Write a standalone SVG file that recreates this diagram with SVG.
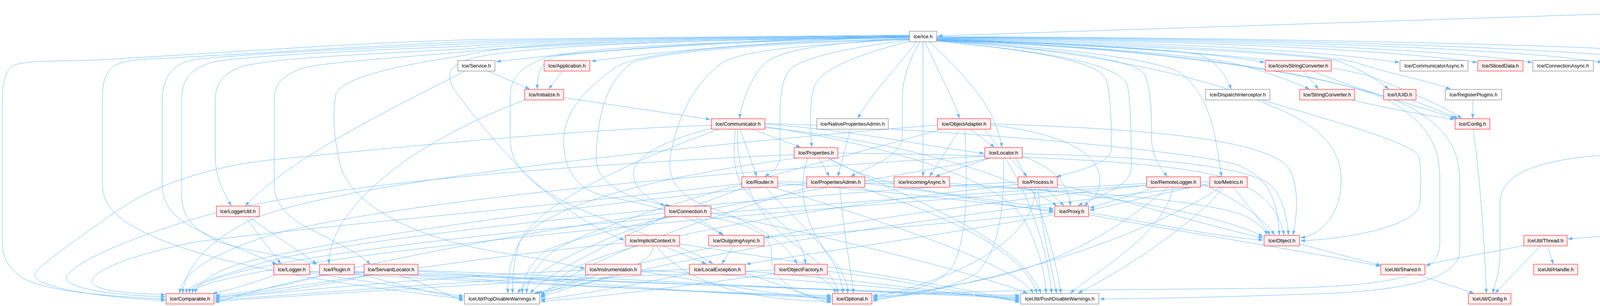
<svg xmlns="http://www.w3.org/2000/svg" width="4797" height="784" viewBox="0 0 4797 784">
<style>
.e path{fill:none;stroke:#63B8FF;stroke-width:1;marker-end:url(#a)}
.n rect{fill:#FFFFFF;stroke:#666666;stroke-width:1}
.r rect{fill:#FFF0F0;stroke:#FF0000;stroke-width:1}
.g rect{fill:#E0E0E0;stroke:#999999;stroke-width:1}
.m rect{fill:#999999;stroke:#666666;stroke-width:1}
text{font-family:"Liberation Sans",Arial,Helvetica,sans-serif;font-size:13px;text-anchor:middle;fill:#000000}
</style>
<defs>
<marker id="a" viewBox="0 0 10 7" refX="10" refY="3.5" markerWidth="11" markerHeight="8" markerUnits="userSpaceOnUse" orient="auto"><path d="M0,0L10,3.5L0,7z" fill="#63B8FF" stroke="#63B8FF" stroke-width="0.5"/></marker>
</defs>
<rect width="4797" height="784" fill="#FFFFFF"/>
<g id="edges" class="e">
<path d="M4501,23 L2401,92"/>
<path d="M4586,32 L4619,79"/>
<path d="M4606,32 L4729,80"/>
<path d="M4566,32 C4540,100 4518,160 4518,240 L4518,420 C4518,560 4250,595 4014,612"/>
<path d="M2398,100 C2800,112 3100,135 3237,160"/>
<path d="M2398,99 C2900,106 3350,125 3582,160"/>
<path d="M2398,98 C3000,103 3550,125 3781,160"/>
<path d="M2398,97 C3100,101 3700,125 3922,160"/>
<path d="M2398,96 C3200,99 3900,125 4101,160"/>
<path d="M2398,95 C3300,97 4100,125 4277,160"/>
<path d="M2398,94 C3300,96 4300,120 4430,147 C4470,160 4476,200 4463,225 C4430,290 4320,340 4207,377"/>
<path d="M2398,101 C2700,110 3000,125 3070,140 C3110,155 3135,185 3152,228"/>
<path d="M2398,102 C2700,112 3050,140 3150,160 C3230,180 3300,205 3352,228"/>
<path d="M2398,101 C2900,115 3350,140 3420,155 C3480,175 3520,200 3555,228"/>
<path d="M2398,100 C2950,110 3400,140 3470,160 C3560,190 3650,205 3713,228"/>
<path d="M2398,102 C2950,118 3420,160 3520,200 C3620,240 3690,270 3742,303"/>
<path d="M2398,103 C2700,120 2950,150 3020,185 C3080,230 3100,300 3110,350 C3120,400 3122,420 3127,452"/>
<path d="M2398,104 C2700,125 2900,150 2930,190 C2948,230 2948,300 2948,350 C2948,400 2970,430 2988,452"/>
<path d="M2398,105 C2650,130 2800,155 2830,200 C2845,240 2845,330 2845,380 C2845,420 2750,440 2705,453"/>
<path d="M2398,104 C2700,135 2860,165 2885,215 C2896,250 2896,380 2896,430 C2896,480 2800,505 2760,527"/>
<path d="M2379,107 C2450,170 2530,260 2548,320 C2560,350 2563,365 2565,377"/>
<path d="M2368,107 C2400,180 2440,250 2456,303"/>
<path d="M2363,107 L2363,452"/>
<path d="M2355,107 C2330,150 2310,200 2310,250 L2310,350 C2310,400 2220,430 2178,452"/>
<path d="M2346,107 C2300,170 2230,240 2196,303"/>
<path d="M2398,103 C2800,130 3100,200 3250,270 C3380,320 3432,380 3433,460 C3435,540 3390,600 3330,609"/>
<path d="M2398,103 C3000,120 3450,200 3560,260 C3660,320 3686,380 3686,460 L3686,620 C3686,700 3600,730 3300,738 L2900,742 C2600,745 2300,745 2235,772"/>
<path d="M2398,104 C3050,125 3500,210 3620,280 C3720,340 3737,400 3737,470 L3737,640 C3737,700 3650,740 3400,752 C3100,762 2950,765 2816,766"/>
<path d="M2328,92 C1900,100 1500,130 1271,158"/>
<path d="M2328,93 C2000,105 1700,130 1514,157"/>
<path d="M2328,94 C1900,105 1500,130 1420,145 C1385,160 1373,190 1376,228"/>
<path d="M2328,99 C2100,110 2000,130 1960,160 C1920,200 1900,260 1893,303"/>
<path d="M2330,105 C2200,140 2110,170 2085,220 C2070,270 2075,330 2078,377"/>
<path d="M2329,102 C2150,125 2050,150 2020,180 C1998,210 1997,260 1997,300 L1997,400 C1997,430 1970,445 1958,452"/>
<path d="M2328,100 C2000,110 1700,130 1620,160 C1560,200 1530,280 1526,400 C1524,470 1600,510 1715,527"/>
<path d="M2328,99 C1950,108 1650,130 1580,170 C1480,240 1443,300 1443,360 C1443,440 1480,490 1560,505 C1700,530 1800,570 1850,602"/>
<path d="M2328,97 C1800,105 1450,125 1390,150 C1330,175 1306,200 1306,250 L1306,350 C1306,420 1340,460 1450,520 C1600,590 1760,630 1825,676"/>
<path d="M2328,101 C2050,115 1900,130 1850,160 C1780,210 1740,290 1720,380 C1700,460 1740,500 1800,525 C1900,560 2010,610 2040,676"/>
<path d="M2328,96 C1700,102 1250,120 1180,160 C1140,180 1150,200 1160,225 C1300,420 1450,560 1598,615"/>
<path d="M2328,96 C1700,100 1300,110 1200,140 C1000,170 880,200 860,240 C850,300 855,350 870,420 C900,540 1100,620 1300,650 C1400,665 1460,680 1497,688"/>
<path d="M2328,90 C1800,95 1300,100 1200,102 C900,110 500,140 306,150 C200,160 60,150 30,170 C10,190 6,220 6,260 L6,620 C6,670 30,690 54,710 C120,750 300,760 423,766"/>
<path d="M2328,91 C1800,96 1300,102 1200,107 C900,120 600,140 459,147 C380,152 300,150 280,180 C265,200 262,220 262,260 L262,470 C262,520 290,550 340,580 C500,670 800,720 1186,766"/>
<path d="M2328,92 C1800,97 1300,105 1200,112 C900,125 600,140 505,152 C440,160 415,200 415,260 L415,470 C415,520 440,550 480,575 C560,620 650,650 708,677"/>
<path d="M2328,93 C1800,98 1300,108 1200,118 C900,130 600,145 540,160 C480,180 465,210 465,260 L465,500 C465,560 500,590 560,620 C660,650 760,660 812,677"/>
<path d="M2328,94 C1800,100 1300,112 1200,125 C900,140 700,150 620,170 C570,190 551,210 551,260 L551,400 C551,450 570,490 592,527"/>
<path d="M2328,95 C1800,102 1300,118 1200,132 C1000,150 800,160 760,180 C715,200 702,220 702,260 L702,470 C702,520 730,550 780,580 C860,620 920,650 948,677"/>
<path d="M1925,331 L2049,377"/>
<path d="M1895,331 L1937,452"/>
<path d="M1821,329 C1700,360 1625,400 1622,440 C1620,480 1650,505 1702,527"/>
<path d="M1883,331 C1872,420 1880,480 1960,540 C2030,590 2058,630 2062,676"/>
<path d="M1958,318 C2200,335 2400,380 2519,393"/>
<path d="M1821,321 C1400,335 900,390 690,410 C550,425 400,470 300,540 C200,610 100,680 90,700 C80,730 200,758 423,770"/>
<path d="M1840,331 C1600,420 1380,520 1330,620 C1305,670 1300,710 1300,751"/>
<path d="M1889,331 C1880,450 1940,560 2040,630 C2120,690 2140,720 2145,751"/>
<path d="M1958,324 C2250,370 2550,450 2620,560 C2660,630 2675,700 2678,751"/>
<path d="M1958,327 C2300,360 2600,450 2705,527"/>
<path d="M1958,316 C2400,330 3000,380 3160,420 C3250,450 3272,520 3275,602"/>
<path d="M2097,405 L2123,452"/>
<path d="M2119,405 C2200,450 2300,480 2450,500 C2560,515 2650,528 2697,535"/>
<path d="M2145,392 C2600,398 3000,410 3150,460 C3250,495 3280,560 3287,602"/>
<path d="M2033,396 C1500,420 800,470 500,560 C300,620 180,680 170,710 C165,740 300,758 423,760"/>
<path d="M2040,405 C1700,450 1400,520 1330,620 C1315,670 1312,710 1312,751"/>
<path d="M2068,405 C2040,480 2060,580 2120,650 C2160,700 2170,720 2170,751"/>
<path d="M2120,405 C2300,500 2600,600 2665,751"/>
<path d="M1991,470 C2300,490 2550,525 2697,539"/>
<path d="M1991,466 C2500,470 3100,500 3200,560 C3230,580 3240,590 3242,602"/>
<path d="M1899,470 C1500,520 800,580 500,620 C350,650 240,690 235,720 C235,745 330,752 423,755"/>
<path d="M1905,480 C1700,560 1400,650 1325,751"/>
<path d="M1960,480 C2050,580 2150,650 2158,751"/>
<path d="M1980,480 C2300,580 2600,680 2645,751"/>
<path d="M2585,405 L2629,452"/>
<path d="M2617,400 C2700,430 2735,470 2740,527"/>
<path d="M2534,405 L2395,452"/>
<path d="M2617,394 C2900,400 3200,420 3260,480 C3290,520 3298,580 3298,602"/>
<path d="M2521,400 C1800,440 1000,520 700,600 C540,650 465,700 460,751"/>
<path d="M2535,405 C2200,470 1600,560 1400,640 C1350,680 1337,720 1337,751"/>
<path d="M2569,405 C2572,520 2560,640 2500,700 C2420,750 2300,758 2235,760"/>
<path d="M2600,405 C2660,500 2700,650 2716,751"/>
<path d="M2483,331 L2546,377"/>
<path d="M2457,331 L2380,452"/>
<path d="M2536,320 C2700,340 2800,380 2815,450 C2820,490 2800,510 2775,527"/>
<path d="M2470,331 C2476,450 2480,600 2440,680 C2400,740 2300,752 2235,757"/>
<path d="M2536,317 C2900,330 3200,350 3290,420 C3330,460 3320,560 3310,602"/>
<path d="M2400,320 C1800,370 900,460 650,560 C520,620 470,700 468,751"/>
<path d="M2410,331 C2100,420 1600,540 1420,640 C1370,680 1350,720 1348,751"/>
<path d="M2520,331 C2620,450 2680,620 2692,751"/>
<path d="M2674,480 L2724,527"/>
<path d="M2707,472 C2900,520 3100,580 3233,610"/>
<path d="M2606,466 C2000,500 900,600 650,680 C540,715 480,730 476,751"/>
<path d="M2606,472 C2200,520 1600,600 1450,700 C1420,725 1400,745 1384,756"/>
<path d="M2650,480 C2650,600 2500,700 2235,763"/>
<path d="M2658,480 C2661,560 2690,680 2705,751"/>
<path d="M2958,480 C2900,500 2830,520 2790,533"/>
<path d="M3073,470 C3150,500 3240,560 3262,602"/>
<path d="M2935,470 C2000,520 900,620 600,700 C510,725 486,740 484,751"/>
<path d="M2935,475 C2300,540 1600,650 1384,759"/>
<path d="M2990,480 C2850,600 2700,680 2500,720 C2400,740 2300,755 2235,766"/>
<path d="M3003,480 C2980,600 2800,700 2740,751"/>
<path d="M3158,480 C3190,520 3230,570 3252,602"/>
<path d="M3097,470 C3000,490 2850,525 2790,539"/>
<path d="M3097,465 C2000,530 900,640 600,710 C510,730 494,742 492,751"/>
<path d="M3097,475 C2300,560 1600,680 1384,762"/>
<path d="M3126,480 C3000,560 2700,700 2235,769"/>
<path d="M3132,480 C3070,560 2900,680 2760,751"/>
<path d="M2214,470 C2400,490 2600,530 2697,543"/>
<path d="M2214,464 C2800,470 3150,560 3233,606"/>
<path d="M2065,470 C1500,520 800,620 600,680 C520,710 502,735 500,751"/>
<path d="M2070,480 C1800,560 1450,680 1384,765"/>
<path d="M2150,480 C2160,600 2180,700 2185,751"/>
<path d="M2200,480 C2450,560 2620,650 2655,751"/>
<path d="M2177,331 L2145,452"/>
<path d="M627,555 L719,676"/>
<path d="M635,555 L811,676"/>
<path d="M1781,555 L1852,602"/>
<path d="M1813,555 C1920,575 1975,600 1975,650 C1970,720 2050,760 2128,775"/>
<path d="M1820,545 C2100,600 2500,700 2630,751"/>
<path d="M1702,545 C1300,600 800,700 551,775"/>
<path d="M1705,555 C1550,630 1400,700 1358,751"/>
<path d="M1698,630 L1808,676"/>
<path d="M1601,622 C1200,660 800,730 551,763"/>
<path d="M1673,630 C1670,690 1500,730 1368,751"/>
<path d="M1680,630 C1750,720 1900,770 2128,772"/>
<path d="M1740,625 C2100,680 2500,740 2610,775"/>
<path d="M1877,630 L1848,676"/>
<path d="M1499,692 C1100,710 700,750 551,766"/>
<path d="M1510,704 C1450,725 1410,740 1376,751"/>
<path d="M1641,695 C1800,720 2000,760 2128,766"/>
<path d="M1641,692 C2000,710 2400,750 2610,766"/>
<path d="M1765,690 C1300,712 800,752 551,769"/>
<path d="M1770,700 C1600,735 1450,760 1384,768"/>
<path d="M1908,700 C2000,730 2080,765 2128,769"/>
<path d="M1908,695 C2200,715 2450,755 2610,769"/>
<path d="M1983,692 C1400,714 800,756 551,772"/>
<path d="M1990,700 C1700,740 1500,765 1384,772"/>
<path d="M2090,704 C2115,720 2135,735 2138,751"/>
<path d="M2118,695 C2300,715 2480,755 2610,772"/>
<path d="M705,704 C640,728 580,745 545,752"/>
<path d="M793,700 C950,720 1100,750 1186,758"/>
<path d="M793,697 C1200,720 1800,750 2128,757"/>
<path d="M793,695 C1400,715 2200,745 2610,757"/>
<path d="M835,704 C720,735 620,752 551,757"/>
<path d="M907,700 C1000,720 1100,755 1186,762"/>
<path d="M907,697 C1300,720 1800,752 2128,760"/>
<path d="M907,695 C1500,715 2200,748 2610,760"/>
<path d="M950,704 C820,735 650,756 551,760"/>
<path d="M1020,704 C1100,730 1150,760 1186,770"/>
<path d="M1070,695 C1400,715 1800,755 2128,763"/>
<path d="M1070,693 C1600,712 2200,750 2610,763"/>
<path d="M2787,550 C3000,590 3350,645 3533,682"/>
<path d="M2787,545 C2950,570 3100,605 3233,615"/>
<path d="M2700,545 C2400,575 2100,600 1958,608"/>
<path d="M2700,550 C2300,620 2000,660 1910,677"/>
<path d="M1249,182 L1356,228"/>
<path d="M1190,182 C1000,280 750,400 628,527"/>
<path d="M1440,182 L1405,228"/>
<path d="M1443,250 L1818,306"/>
<path d="M1345,256 C1250,290 1100,360 1000,440 C900,520 842,600 842,676"/>
<path d="M3337,182 L3375,228"/>
<path d="M3359,182 C3480,230 3620,270 3726,303"/>
<path d="M3461,256 C3560,280 3650,295 3723,306"/>
<path d="M3614,256 L3732,303"/>
<path d="M3771,256 L3770,303"/>
<path d="M3229,256 C3450,320 3620,370 3632,400 C3640,430 3636,500 3635,520 C3630,580 3450,612 3330,617"/>
<path d="M3771,331 C3785,420 3800,600 3805,751"/>
<path d="M4097,398 C3950,410 3840,440 3840,520 L3840,650 C3840,700 3825,730 3822,751"/>
<path d="M3901,629 C3800,650 3700,665 3650,680"/>
<path d="M3962,630 L3976,676"/>
<path d="M3943,630 L3828,751"/>
<path d="M3630,704 L3773,751"/>
<path d="M3327,625 C3400,645 3480,665 3535,680"/>
</g>
<g id="node-clientutil" class="m"><rect x="4501" y="5" width="147" height="27"/><text x="4574.5" y="23">IcePatch2/ClientUtil.h</text></g>
<g id="node-ice" class="n"><rect x="2328" y="80" width="70" height="27"/><text x="2363" y="98">Ice/Ice.h</text></g>
<g id="node-fileserver" class="g"><rect x="4557" y="80" width="151" height="27"/><text x="4632.5" y="98">IcePatch2/FileServer.h</text></g>
<g id="node-stdio" class="g"><rect x="4731" y="80" width="61" height="27"/><text x="4761.5" y="98">stdio.h</text></g>
<g id="node-service" class="n"><rect x="1172" y="155" width="95" height="27"/><text x="1219.5" y="173">Ice/Service.h</text></g>
<g id="node-application" class="r"><rect x="1393" y="155" width="117" height="27"/><text x="1451.5" y="173">Ice/Application.h</text></g>
<g id="node-iconv" class="r"><rect x="3239" y="155" width="169" height="27"/><text x="3323.5" y="173">Ice/IconvStringConverter.h</text></g>
<g id="node-commasync" class="n"><rect x="3584" y="155" width="174" height="27"/><text x="3671" y="173">Ice/CommunicatorAsync.h</text></g>
<g id="node-sliceddata" class="r"><rect x="3783" y="155" width="116" height="27"/><text x="3841" y="173">Ice/SlicedData.h</text></g>
<g id="node-connasync" class="n"><rect x="3924" y="155" width="155" height="27"/><text x="4001.5" y="173">Ice/ConnectionAsync.h</text></g>
<g id="node-slicechecksums" class="r"><rect x="4103" y="155" width="151" height="27"/><text x="4178.5" y="173">Ice/SliceChecksums.h</text></g>
<g id="node-interfacebyvalue" class="r"><rect x="4279" y="155" width="151" height="27"/><text x="4354.5" y="173">Ice/InterfaceByValue.h</text></g>
<g id="node-initialize" class="r"><rect x="1343" y="229" width="100" height="27"/><text x="1393" y="247">Ice/Initialize.h</text></g>
<g id="node-dispatchinterceptor" class="n"><rect x="3086" y="229" width="165" height="27"/><text x="3168.5" y="247">Ice/DispatchInterceptor.h</text></g>
<g id="node-stringconverter" class="r"><rect x="3327" y="229" width="141" height="27"/><text x="3397.5" y="247">Ice/StringConverter.h</text></g>
<g id="node-uuid" class="r"><rect x="3542" y="229" width="83" height="27"/><text x="3583.5" y="247">Ice/UUID.h</text></g>
<g id="node-registerplugins" class="n"><rect x="3700" y="229" width="144" height="27"/><text x="3772" y="247">Ice/RegisterPlugins.h</text></g>
<g id="node-communicator" class="r"><rect x="1821" y="304" width="137" height="27"/><text x="1889.5" y="322">Ice/Communicator.h</text></g>
<g id="node-nativepropertiesadmin" class="n"><rect x="2091" y="304" width="183" height="27"/><text x="2182.5" y="322">Ice/NativePropertiesAdmin.h</text></g>
<g id="node-objectadapter" class="r"><rect x="2400" y="304" width="136" height="27"/><text x="2468" y="322">Ice/ObjectAdapter.h</text></g>
<g id="node-config" class="r"><rect x="3725" y="304" width="89" height="27"/><text x="3769.5" y="322">Ice/Config.h</text></g>
<g id="node-properties" class="r"><rect x="2033" y="378" width="112" height="27"/><text x="2089" y="396">Ice/Properties.h</text></g>
<g id="node-locator" class="r"><rect x="2521" y="378" width="96" height="27"/><text x="2569" y="396">Ice/Locator.h</text></g>
<g id="node-functional" class="n"><rect x="4097" y="378" width="113" height="27"/><text x="4153.5" y="396">Ice/Functional.h</text></g>
<g id="node-router" class="r"><rect x="1899" y="453" width="92" height="27"/><text x="1945" y="471">Ice/Router.h</text></g>
<g id="node-propertiesadmin" class="r"><rect x="2065" y="453" width="149" height="27"/><text x="2139.5" y="471">Ice/PropertiesAdmin.h</text></g>
<g id="node-incomingasync" class="r"><rect x="2289" y="453" width="142" height="27"/><text x="2360" y="471">Ice/IncomingAsync.h</text></g>
<g id="node-process" class="r"><rect x="2606" y="453" width="101" height="27"/><text x="2656.5" y="471">Ice/Process.h</text></g>
<g id="node-remotelogger" class="r"><rect x="2935" y="453" width="138" height="27"/><text x="3004" y="471">Ice/RemoteLogger.h</text></g>
<g id="node-metrics" class="r"><rect x="3097" y="453" width="96" height="27"/><text x="3145" y="471">Ice/Metrics.h</text></g>
<g id="node-loggerutil" class="r"><rect x="554" y="528" width="110" height="27"/><text x="609" y="546">Ice/LoggerUtil.h</text></g>
<g id="node-connection" class="r"><rect x="1702" y="528" width="118" height="27"/><text x="1761" y="546">Ice/Connection.h</text></g>
<g id="node-proxy" class="r"><rect x="2700" y="528" width="87" height="27"/><text x="2743.5" y="546">Ice/Proxy.h</text></g>
<g id="node-implicitcontext" class="r"><rect x="1601" y="603" width="139" height="27"/><text x="1670.5" y="621">Ice/ImplicitContext.h</text></g>
<g id="node-outgoingasync" class="r"><rect x="1814" y="603" width="142" height="27"/><text x="1885" y="621">Ice/OutgoingAsync.h</text></g>
<g id="node-object" class="r"><rect x="3236" y="603" width="91" height="27"/><text x="3281.5" y="621">Ice/Object.h</text></g>
<g id="node-thread" class="r"><rect x="3901" y="603" width="111" height="27"/><text x="3956.5" y="621">IceUtil/Thread.h</text></g>
<g id="node-logger" class="r"><rect x="701" y="677" width="92" height="27"/><text x="747" y="695">Ice/Logger.h</text></g>
<g id="node-plugin" class="r"><rect x="818" y="677" width="89" height="27"/><text x="862.5" y="695">Ice/Plugin.h</text></g>
<g id="node-servantlocator" class="r"><rect x="932" y="677" width="138" height="27"/><text x="1001" y="695">Ice/ServantLocator.h</text></g>
<g id="node-instrumentation" class="r"><rect x="1499" y="677" width="142" height="27"/><text x="1570" y="695">Ice/Instrumentation.h</text></g>
<g id="node-localexception" class="r"><rect x="1765" y="677" width="143" height="27"/><text x="1836.5" y="695">Ice/LocalException.h</text></g>
<g id="node-objectfactory" class="r"><rect x="1983" y="677" width="135" height="27"/><text x="2050.5" y="695">Ice/ObjectFactory.h</text></g>
<g id="node-shared" class="r"><rect x="3535" y="677" width="113" height="27"/><text x="3591.5" y="695">IceUtil/Shared.h</text></g>
<g id="node-handle" class="r"><rect x="3926" y="677" width="113" height="27"/><text x="3982.5" y="695">IceUtil/Handle.h</text></g>
<g id="node-comparable" class="r"><rect x="425" y="752" width="123" height="27"/><text x="486.5" y="770">Ice/Comparable.h</text></g>
<g id="node-popdisablewarnings" class="n"><rect x="1189" y="752" width="192" height="27"/><text x="1285" y="770">IceUtil/PopDisableWarnings.h</text></g>
<g id="node-optional" class="r"><rect x="2131" y="752" width="101" height="27"/><text x="2181.5" y="770">Ice/Optional.h</text></g>
<g id="node-pushdisablewarnings" class="n"><rect x="2613" y="752" width="200" height="27"/><text x="2713" y="770">IceUtil/PushDisableWarnings.h</text></g>
<g id="node-iceutilconfig" class="r"><rect x="3759" y="752" width="109" height="27"/><text x="3813.5" y="770">IceUtil/Config.h</text></g>
</svg>
